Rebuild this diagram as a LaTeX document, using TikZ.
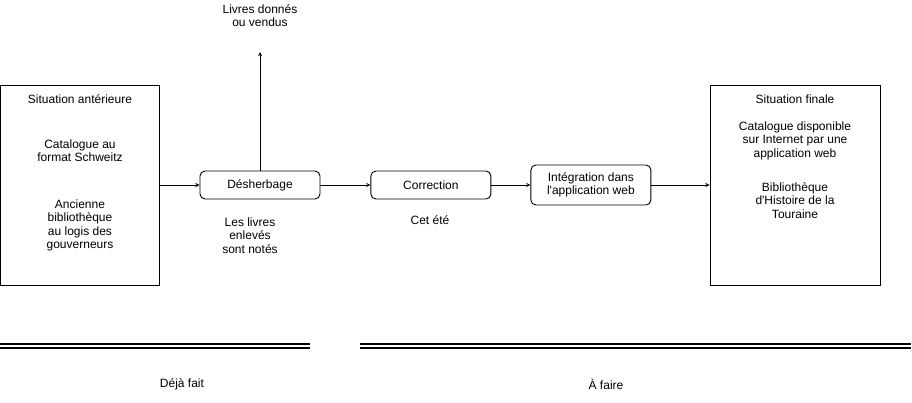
\documentclass[tikz,border=0pt]{standalone}
\usepackage{fontspec}
\setmainfont{Liberation Sans}[Ligatures=TeXOff]
\usetikzlibrary{positioning,arrows}

\begin{document}
\begin{tikzpicture}[x=1pt,y=-1pt,->,>=stealth,line width=0.9pt,
font=\fontsize{12}{13.5}\selectfont,node distance=40pt,
situation/.style={draw, minimum width=159pt, minimum height=200pt},
etape/.style={draw, rounded corners=5pt, minimum width=120pt, minimum height=28pt, align=center},
texte/.style={align=center, inner sep=0pt},
separe/.style={-, line width=1.3pt}]
\useasboundingbox (0,0) rectangle (912,402);

\node[situation](ante) at (80,185){};
\node[texte] at (80,99){Situation antérieure};
\node[texte] at (80,150.5){Catalogue au\\format Schweitz};
\node[texte] at (80,225.5){Ancienne\\bibliothèque\\au logis des\\gouverneurs};

\node[etape](desherb) at (260,185){Désherbage};
\node[etape][right=50pt of desherb](correct){Correction};
\node[etape][right of=correct, node distance=160pt, minimum height=40pt](integ){Intégration dans\\l'application web};

\node[situation, minimum width=170pt](finale) at (795,185){};
\node[texte] at (795,99){Situation finale};
\node[texte] at (795,140.5){Catalogue disponible\\sur Internet par une\\application web};
\node[texte] at (795,200.5){Bibliothèque\\d'Histoire de la\\Touraine};

\coordinate (dons) at (260,52);
\node[texte](donsTxt) at (260,15.5){Livres donnés\\ou vendus};
\node[texte](notes) at (250,235.5){Les livres\\enlevés\\sont notés};
\node[texte](ete) at (430,220){Cet été};

\path (ante) edge (desherb)
      (desherb) edge (correct)
      (desherb) edge (dons)
      (correct) edge (integ)
      (integ) edge (finale)
;

% separations
\coordinate (fait1) at (0,348);
\coordinate (fait2) at (310,348);
\coordinate (faire1) at (360,348);
\coordinate (faire2) at (911,348);
\draw[separe] (fait1) -- (fait2) ([yshift=4pt]fait1) -- ([yshift=4pt]fait2);
\draw[separe] (faire1) -- (faire2) ([yshift=4pt]faire1) -- ([yshift=4pt]faire2);
\node[texte](fait) at (182,384){Déjà fait};
\node[texte](faire) at (606,384){À faire};
\end{tikzpicture}
\end{document}
